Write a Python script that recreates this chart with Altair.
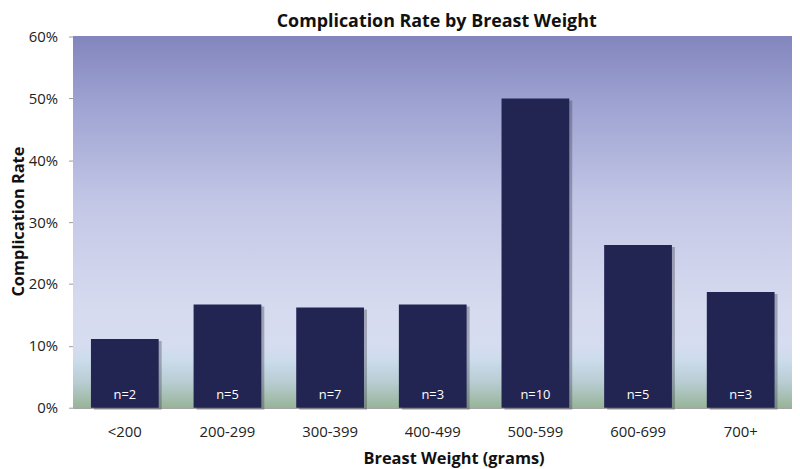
import altair as alt
import pandas as pd

categories = ["<200", "200-299", "300-399", "400-499", "500-599", "600-699", "700+"]
rates = [0.111, 0.167, 0.162, 0.167, 0.50, 0.263, 0.187]
n_labels = ["n=2", "n=5", "n=7", "n=3", "n=10", "n=5", "n=3"]

df = pd.DataFrame({"cat": categories, "rate": rates, "n": n_labels})

W, H = 724, 374
FONT = "Open Sans"
xscale = alt.Scale(paddingInner=0.34, paddingOuter=0.17)

xenc = alt.X("cat:N", sort=categories, scale=xscale,
             axis=alt.Axis(title="Breast Weight (grams)", labelAngle=0, labelFontSize=15,
                           labelColor="#222222", labelPadding=17, ticks=False,
                           domainColor="#9a9a9a", titleFontSize=16.5, titleFontWeight="bold",
                           titleX=383, titleY=56, titleBaseline="alphabetic", titleColor="#111111"))
yscale = alt.Scale(domain=[0, 0.6])
yenc = alt.Y("rate:Q", scale=yscale,
             axis=alt.Axis(title="Complication Rate", format=".0%", values=[0, 0.1, 0.2, 0.3, 0.4, 0.5, 0.6],
                           labelFontSize=15, labelColor="#222222", labelPadding=11, tickSize=5,
                           tickColor="#9a9a9a", domainColor="#9a9a9a", gridColor="#9c9c9c",
                           gridWidth=1, titleFontSize=16.5, titleFontWeight="bold",
                           titleX=-55, titleY=186, titleAngle=-90, titleBaseline="middle",
                           titleAlign="center", titleColor="#111111"))

bg = alt.Chart(df).mark_rect(
    color=alt.Gradient(
        gradient="linear", x1=0, x2=0, y1=0, y2=1,
        stops=[
            alt.GradientStop(offset=0, color="#8286bd"),
            alt.GradientStop(offset=0.17, color="#9ca1d1"),
            alt.GradientStop(offset=0.45, color="#c3c7e6"),
            alt.GradientStop(offset=0.72, color="#d6daef"),
            alt.GradientStop(offset=0.83, color="#d6ddf0"),
            alt.GradientStop(offset=0.87, color="#ccdcec"),
            alt.GradientStop(offset=0.93, color="#b9cdd4"),
            alt.GradientStop(offset=1.0, color="#97b498"),
        ]),
).encode(x=alt.value(0), x2=alt.value(W), y=alt.value(0), y2=alt.value(H))

grid = alt.Chart(df).mark_bar(opacity=0).encode(x=xenc, y=yenc)

shadow = alt.Chart(df).mark_bar(color="#3a3a4a", opacity=0.35, xOffset=3, yOffset=2, y2Offset=0).encode(
    x=alt.X("cat:N", sort=categories, scale=xscale),
    y=alt.Y("rate:Q", scale=yscale))

bars = alt.Chart(df).mark_bar(color="#222452").encode(
    x=alt.X("cat:N", sort=categories, scale=xscale),
    y=alt.Y("rate:Q", scale=yscale))

labels = alt.Chart(df).mark_text(color="white", fontSize=13, font=FONT, baseline="middle").encode(
    x=alt.X("cat:N", sort=categories, scale=xscale),
    y=alt.value(H - 13), text="n:N")

chart = alt.layer(bg, grid, shadow, bars, labels).properties(
    width=W, height=H,
    autosize=alt.AutoSizeParams(type="none"),
    padding={"left": 66, "top": 27, "right": 0, "bottom": 60},
    title=alt.TitleParams("Complication Rate by Breast Weight", fontSize=18, fontWeight="bold",
                          font=FONT, color="#111111", anchor="middle", dx=4, dy=3, offset=2),
).configure(font=FONT).configure_view(stroke=None).configure_axis(labelFont=FONT, titleFont=FONT)

chart.save("out.html", embed_options={"renderer": "svg", "actions": False})
